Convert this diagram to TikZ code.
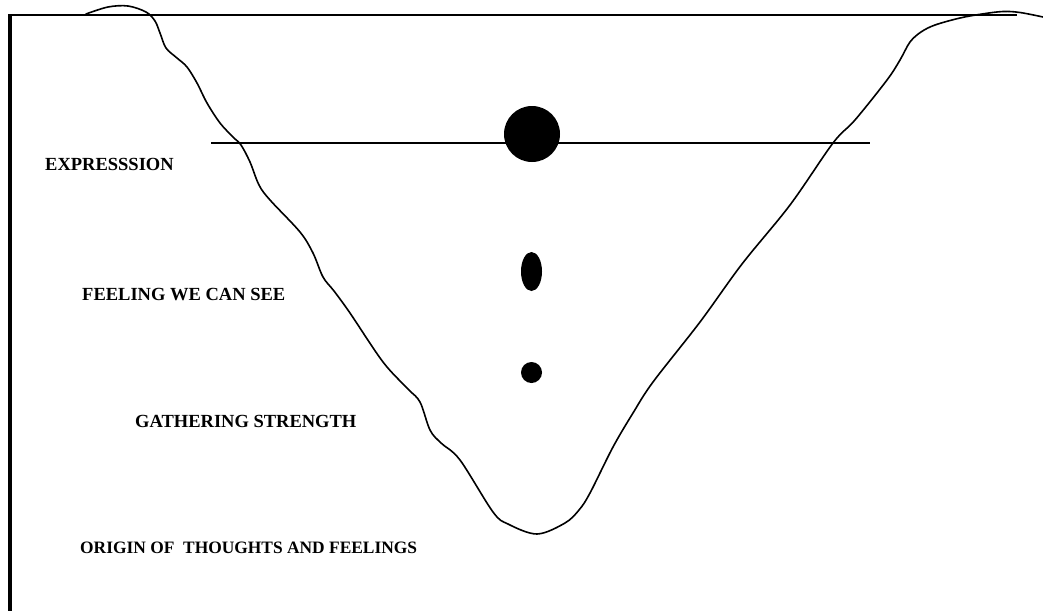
\documentclass[tikz,border=0pt]{standalone}
\usepackage{fontspec}
\setmainfont{Liberation Serif}[BoldFont={Liberation Serif Bold}]
\begin{document}
\begin{tikzpicture}[x=1pt,y=-1pt,
  lbl/.style={anchor=base west,inner sep=0pt,font=\bfseries\fontsize{18.5}{20}\selectfont},
  lblsmall/.style={anchor=base west,inner sep=0pt,font=\bfseries\fontsize{17.4}{19}\selectfont},
  curve/.style={line width=1.6pt,line join=round,line cap=round},
  dot/.style={fill=black,draw=none}]
\useasboundingbox (0,0) rectangle (1043,611);
% frame lines
\coordinate (tl) at (9,15);
\coordinate (tr) at (1017,15);
\coordinate (bl) at (10.3,611);
\draw[line width=1.8pt] (tl) -- (tr);
\draw[line width=4pt] (10.3,14.1) -- (bl);
% surface line
\coordinate (sl) at (211,143);
\coordinate (sr) at (870,143);
\draw[line width=1.5pt] (sl) -- (sr);
% the valley curve
\draw[curve] plot[smooth,tension=0.55] coordinates {
 (86,14) (108,7) (128,6) (146,12) (155,21) (160,33) (166,48) (177,58)
 (187,67) (197,83) (207,103) (220,123) (233,137) (241,145) (250,162)
 (259,185) (270,200) (300,232) (313,253) (323,277) (334,291) (350,313)
 (383,362) (408,389) (420,402) (430,430) (441,443) (460,460) (493,512)
 (508,524) (537,534) (565,523) (579,510) (590,493) (613,447) (633,413)
 (653,382) (700,322) (742,264) (790,205) (833,143) (855,120) (887,80)
 (900,60) (910,42) (921,32) (935,25) (960,18) (982,14) (1003,11.5)
 (1020,12.5) (1043,17)};
% dots
\fill[dot] (532,134) circle (28);
\fill[dot] (531.5,271.5) ellipse (10.5 and 19.5);
\fill[dot] (531.5,372.5) circle (10.5);
% labels
\node[lbl] (expr) at (45,170) {EXPRESSSION};
\node[lbl] (feel) at (82,300) {FEELING WE CAN SEE};
\node[lbl] (gath) at (135,427) {GATHERING STRENGTH};
\node[lblsmall] (orig) at (80,553) {ORIGIN OF\ \ THOUGHTS AND FEELINGS};
\end{tikzpicture}
\end{document}
